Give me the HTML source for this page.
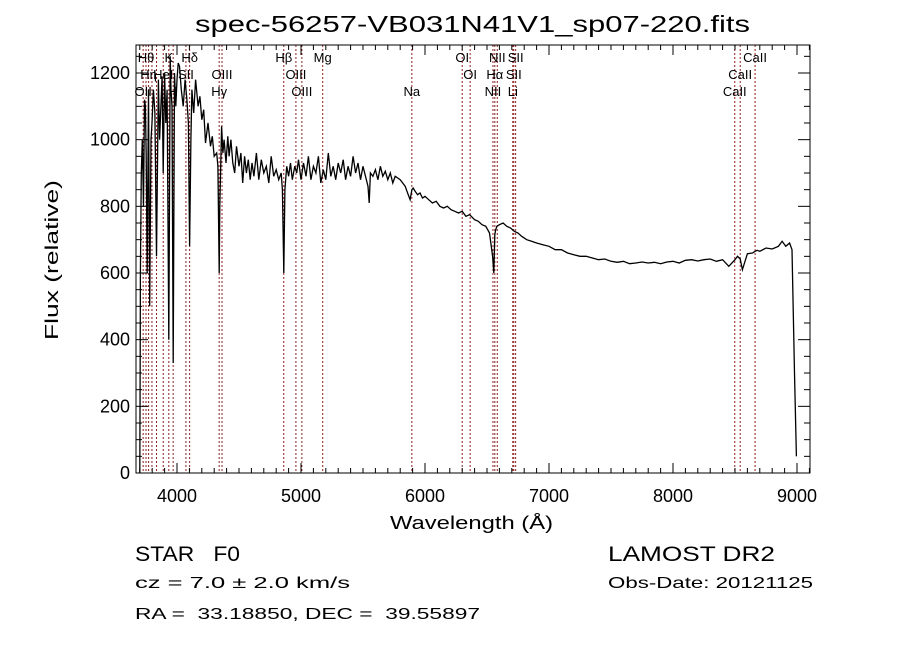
<!DOCTYPE html>
<html><head><meta charset="utf-8"><style>
body{margin:0;background:#fff;}
svg text{font-family:"Liberation Sans",sans-serif;white-space:pre;}
</style></head><body>
<svg id="c" width="900" height="649" viewBox="0 0 900 649" xmlns="http://www.w3.org/2000/svg">
<text x="195" y="32" font-size="23" textLength="555" lengthAdjust="spacingAndGlyphs">spec-56257-VB031N41V1_sp07-220.fits</text>
<text x="390" y="529" font-size="18" textLength="163" lengthAdjust="spacingAndGlyphs">Wavelength (Å)</text>
<text transform="translate(58,340) rotate(-90)" font-size="18" textLength="160" lengthAdjust="spacingAndGlyphs">Flux (relative)</text>
<text x="135" y="561" font-size="21" textLength="105" lengthAdjust="spacingAndGlyphs">STAR   F0</text>
<text x="135" y="588" font-size="16" textLength="215" lengthAdjust="spacingAndGlyphs">cz = 7.0 ± 2.0 km/s</text>
<text x="135" y="619" font-size="16" textLength="345" lengthAdjust="spacingAndGlyphs">RA =  33.18850, DEC =  39.55897</text>
<text x="608" y="561" font-size="21" textLength="167" lengthAdjust="spacingAndGlyphs">LAMOST DR2</text>
<text x="608" y="588" font-size="16" textLength="205" lengthAdjust="spacingAndGlyphs">Obs-Date: 20121125</text>
<g id="g"></g>
</svg>
<script>
const wave=[3700,3703,3705,3712,3720,3730,3738,3745,3752,3760,3770,3780,3790,3798,3810,3822,3835,3850,3860,3870,3880,3889,3900,3910,3920,3934,3945,3952,3960,3969,3980,3990,4000,4010,4020,4035,4050,4065,4080,4092,4102,4112,4120,4135,4150,4170,4185,4200,4215,4230,4250,4270,4285,4300,4320,4330,4340,4345,4360,4370,4380,4395,4410,4420,4435,4450,4465,4480,4500,4515,4530,4545,4560,4575,4590,4605,4620,4640,4660,4680,4700,4720,4740,4760,4780,4800,4820,4840,4850,4861,4870,4885,4900,4915,4930,4950,4965,4980,5000,5020,5040,5060,5080,5100,5120,5140,5160,5180,5200,5220,5240,5260,5280,5300,5320,5340,5360,5380,5400,5420,5440,5460,5480,5500,5520,5540,5550,5560,5580,5600,5620,5640,5660,5680,5700,5720,5740,5760,5780,5800,5820,5840,5860,5880,5894,5905,5920,5940,5960,5980,6000,6030,6060,6090,6120,6150,6180,6210,6240,6270,6300,6330,6360,6400,6430,6460,6490,6520,6545,6555,6563,6570,6580,6600,6630,6660,6690,6720,6750,6780,6820,6860,6900,6950,7000,7050,7100,7150,7200,7250,7300,7350,7400,7450,7500,7550,7600,7650,7700,7750,7800,7850,7900,7950,8000,8050,8100,8150,8200,8250,8300,8350,8400,8450,8500,8520,8542,8560,8600,8640,8662,8680,8700,8750,8800,8850,8880,8910,8940,8960,8980,8995,9000,9002,9005];
const flux=[0,350,600,900,1000,800,1120,1100,950,600,1150,500,1000,1050,1150,1080,650,1180,1000,1100,1190,900,1200,1050,1150,400,1250,1150,1100,330,1200,1100,1180,1230,1220,1150,1100,1180,1120,1050,680,1000,1150,1080,1180,1100,1130,1060,1090,990,1050,980,1010,950,960,920,600,800,1040,960,1000,930,1010,950,1000,930,900,980,920,960,870,950,900,940,880,930,890,960,880,940,900,920,870,950,890,910,880,900,850,600,850,920,890,930,880,920,900,940,880,930,890,950,880,920,900,950,870,910,880,960,890,920,880,930,900,940,880,920,890,950,900,930,880,920,890,860,810,900,890,910,880,920,890,905,880,900,870,890,885,880,870,860,840,820,850,855,845,835,840,825,830,820,810,815,800,795,800,790,785,780,785,770,775,760,755,745,740,720,650,600,715,730,740,745,750,740,735,725,720,710,700,695,690,685,680,670,670,660,655,650,650,645,640,642,635,632,635,628,630,633,630,632,628,633,635,630,638,640,636,640,642,635,640,620,640,650,642,610,658,660,665,668,665,675,672,680,695,680,690,670,300,50];
const lineWaves=[3727,3750,3771,3798,3835,3889,3934,3969,4072,4102,4340,4363,4861,4959,5007,5175,5894,6300,6364,6548,6563,6583,6708,6716,6731,8498,8542,8662];
const lineLabels=[["OII",91,3727],["Hθ",57,3750],["Hη",74,3771],["HeI",74,3889],["K",57,3934],["H",91,3969],["SII",74,4072],["Hδ",57,4102],["OIII",74,4363],["Hγ",91,4340],["Hβ",57,4861],["OIII",74,4959],["OIII",91,5007],["Mg",57,5175],["Na",91,5894],["OI",57,6300],["OI",74,6364],["NII",57,6583],["Hα",74,6563],["NII",91,6548],["SII",57,6731],["SII",74,6716],["Li",91,6708],["CaII",57,8662],["CaII",74,8542],["CaII",91,8498]];
const xTicks=[4000,5000,6000,7000,8000,9000];
const yTicks=[0,200,400,600,800,1000,1200];
const L=136,R=810,T=45,B=473;
const x=w=>177+(w-4000)*0.124;
const y=v=>B-v*(1/3);
const g=document.getElementById('g');
const NS='http://www.w3.org/2000/svg';
function mk(t,a){const e=document.createElementNS(NS,t);for(const k in a)e.setAttribute(k,a[k]);g.appendChild(e);return e;}
lineWaves.forEach(w=>{const e=mk('line',{x1:x(w),x2:x(w),y1:T,y2:B,stroke:'#8b2020','stroke-width':1,'stroke-dasharray':'2,2'});

});
lineLabels.forEach(l=>{const e=mk('text',{x:x(l[2]),y:l[1]+5,'font-size':13,'text-anchor':'middle','font-family':'Liberation Serif, serif'});e.textContent=l[0];

});
let d='';wave.forEach((w,i)=>{d+=(i?'L':'M')+x(w).toFixed(1)+','+y(flux[i]).toFixed(1);});
const p=mk('path',{d:d,fill:'none',stroke:'#000','stroke-width':1.3});


const fr=mk('rect',{x:L,y:T,width:R-L,height:B-T,fill:'none',stroke:'#000','stroke-width':1});


for(let w=3700;w<=9100;w+=100){const mj=w%1000===0;const len=mj?10:5;
mk('line',{x1:x(w),x2:x(w),y1:B,y2:B-len,stroke:'#000'});mk('line',{x1:x(w),x2:x(w),y1:T,y2:T+len,stroke:'#000'});}
for(let v=0;v<=1250;v+=50){const mj=v%200===0;const len=mj?12:6;
mk('line',{x1:L,x2:L+len,y1:y(v),y2:y(v),stroke:'#000'});mk('line',{x1:R,x2:R-len,y1:y(v),y2:y(v),stroke:'#000'});}
xTicks.forEach(t=>{const e=mk('text',{x:x(t),y:502,'font-size':18,'text-anchor':'middle'});e.textContent=t;

});
yTicks.forEach(t=>{const e=mk('text',{x:130,y:y(t)+6,'font-size':18,'text-anchor':'end'});e.textContent=t;

});
</script>
</body></html>
